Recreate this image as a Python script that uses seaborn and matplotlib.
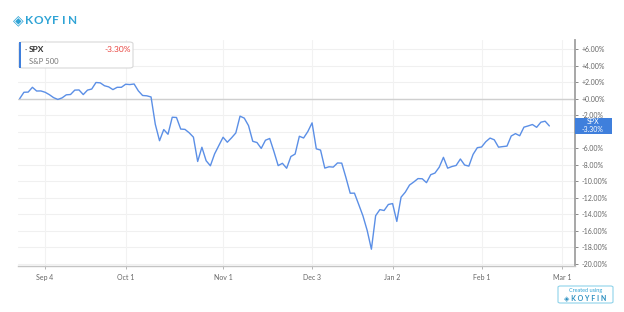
import numpy as np
import pandas as pd
import matplotlib
matplotlib.use("Agg")
import matplotlib.pyplot as plt
from matplotlib.patches import FancyBboxPatch, Rectangle
import seaborn as sns

# ---- data (percent change of S&P 500 since start) ----
start_date = "2018-08-24"
end_date = "2019-03-01"
holidays = ["2018-09-03", "2018-11-22", "2018-12-05", "2018-12-25",
            "2019-01-01", "2019-01-21", "2019-02-18"]
pct_aug = [0.00, 0.77, 0.79, 1.37, 0.92, 0.93]
pct_sep = [0.77, 0.48, 0.12, -0.10, 0.09, 0.46, 0.50, 1.03, 1.05, 0.49,
           1.03, 1.16, 1.95, 1.91, 1.56, 1.42, 1.09, 1.37, 1.37]
pct_oct = [1.74, 1.70, 1.77, 0.94, 0.38, 0.34, 0.20, -3.10, -5.09, -3.74,
           -4.31, -2.25, -2.28, -3.68, -3.72, -4.13, -4.66, -7.60, -5.88,
           -7.51, -8.12, -6.68, -5.67]
pct_nov = [-4.67, -5.27, -4.74, -4.15, -2.12, -2.36, -3.26, -5.16, -5.31,
           -6.02, -5.03, -4.82, -6.40, -8.10, -7.82, -8.42, -7.00, -6.70,
           -4.55, -4.76, -3.98]
pct_dec = [-2.93, -6.07, -6.22, -8.40, -8.24, -8.28, -7.78, -7.80, -9.56,
           -11.44, -11.43, -12.79, -14.17, -15.93, -18.21, -14.16, -13.42,
           -13.53, -12.80]
pct_jan = [-12.69, -14.85, -11.92, -11.31, -10.45, -10.08, -9.67, -9.69,
           -10.16, -9.20, -9.00, -8.30, -7.10, -8.41, -8.21, -8.08, -7.30,
           -8.03, -8.16, -6.74, -5.93]
pct_feb = [-5.85, -5.21, -4.77, -4.98, -5.87, -5.80, -5.74, -4.52, -4.23,
           -4.49, -3.45, -3.30, -3.13, -3.47, -2.85, -2.73, -3.30]
tick_dates = ["2018-09-04", "2018-10-01", "2018-11-01", "2018-12-03",
              "2019-01-02", "2019-02-01", "2019-03-01"]
tick_labels = ["Sep 4", "Oct 1", "Nov 1", "Dec 3", "Jan 2", "Feb 1", "Mar 1"]
y_ticks = [6, 4, 2, 0, -2, -4, -6, -8, -10, -12, -14, -16, -18, -20]
ticker = "SPX"
name = "S&P 500"
last_label = "-3.30%"
brand = "KOYFIN"

values = pct_aug + pct_sep + pct_oct + pct_nov + pct_dec + pct_jan + pct_feb
days = pd.bdate_range(start_date, end_date)
days = days[~days.isin(pd.to_datetime(holidays))]
day_index = {d: i for i, d in enumerate(days)}
df = pd.DataFrame({"t": np.arange(len(values)), "pct": values})
tick_pos = [day_index[pd.Timestamp(d)] for d in tick_dates]

# ---- figure ----
sns.set_style("white")
plt.rcParams["font.family"] = ["Lato", "DejaVu Sans"]
W, H = 624, 312
fig = plt.figure(figsize=(W / 100, H / 100), dpi=100, facecolor="white")
ax = fig.add_axes([18 / W, 1 - 266 / H, (575 - 18) / W, (266 - 40) / H])

line_color = "#5b8fe6"
sns.lineplot(data=df, x="t", y="pct", ax=ax, color=line_color, linewidth=1.0)

ax.set_xlim(-0.4, 131.05)
ax.set_ylim(-20.24, 7.09)
ax.set_xlabel("")
ax.set_ylabel("")

# grid
for y in y_ticks:
    ax.axhline(y, color="#f0f0f0", lw=0.8, zorder=0)
ax.axhline(0, color="#cfcfcf", lw=1.0, zorder=1)
for x in tick_pos:
    ax.axvline(x, color="#f2f2f2", lw=0.8, zorder=0)

# axes / ticks
for s in ["left", "top"]:
    ax.spines[s].set_visible(False)
ax.spines["right"].set_color("#a0a0a0")
ax.spines["right"].set_linewidth(1.3)
ax.spines["bottom"].set_color("#c4c4c4")
ax.spines["bottom"].set_linewidth(1.0)
ax.yaxis.tick_right()
ax.set_yticks(y_ticks)
ax.set_yticklabels([("" if v == -4 else (f"+{v:.2f}%" if v >= 0 else f"{v:.2f}%"))
                    for v in y_ticks])
ax.set_xticks(tick_pos)
ax.set_xticklabels(tick_labels)
ax.tick_params(axis="y", which="both", right=True, length=2.5, width=0.6,
               color="#777777", labelsize=5, labelcolor="#666666", pad=2)
ax.tick_params(axis="x", which="both", bottom=True, length=2.5, width=0.6,
               color="#aaaaaa", labelsize=5, labelcolor="#666666", pad=3)

# last value marker box on right axis
fig.patches.append(Rectangle((575 / W, 1 - 134 / H), 37 / W, 16 / H,
                             transform=fig.transFigure, facecolor="#3f7fdc",
                             edgecolor="none", zorder=5))
fig.text(593 / W, 1 - 122 / H, ticker, color="white", fontsize=5,
         ha="center", va="center", zorder=6)
fig.text(593 / W, 1 - 129.5 / H, last_label, color="white", fontsize=5,
         ha="center", va="center", zorder=6)

# legend box
fig.patches.append(FancyBboxPatch((19 / W, 1 - 68 / H), 114 / W, 26 / H,
                                  boxstyle="round,pad=0,rounding_size=0.006",
                                  transform=fig.transFigure, facecolor="white",
                                  edgecolor="#d8d8d8", lw=0.8, zorder=5))
fig.patches.append(Rectangle((19 / W, 1 - 68 / H), 2 / W, 26 / H,
                             transform=fig.transFigure, facecolor="#3f7fdc",
                             edgecolor="none", zorder=6))
fig.text(25 / W, 1 - 50 / H, "·", color="#555555", fontsize=6,
         ha="left", va="center", zorder=7)
fig.text(29 / W, 1 - 50 / H, ticker, color="#333333", fontsize=6,
         fontweight="bold", ha="left", va="center", zorder=7)
fig.text(131 / W, 1 - 50 / H, last_label, color="#e8413c", fontsize=6,
         ha="right", va="center", zorder=7)
fig.text(29 / W, 1 - 61 / H, name, color="#777777", fontsize=5.5,
         ha="left", va="center", zorder=7)

# Koyfin logo
logo_c = "#2ea3d5"
fig.text(12.5 / W, 1 - 20.5 / H, "◈", color=logo_c, fontsize=10,
         ha="left", va="center", family=["DejaVu Sans"])
for i, ch in enumerate(brand):
    fig.text((29.5 + i * 8.7) / W, 1 - 20.5 / H, ch, color=logo_c,
             fontsize=8.5, fontweight="bold", ha="center", va="center")

# "Created using" badge
fig.patches.append(FancyBboxPatch((558 / W, 1 - 303 / H), 55 / W, 17 / H,
                                  boxstyle="round,pad=0,rounding_size=0.004",
                                  transform=fig.transFigure, facecolor="white",
                                  edgecolor="#8fd3ea", lw=0.8, zorder=5))
fig.text(585.5 / W, 1 - 290.5 / H, "Created using", color=logo_c, fontsize=4,
         ha="center", va="center", zorder=6)
fig.text(585.5 / W, 1 - 297.5 / H, "◈ K O Y F I N", color="#2a8fc0", fontsize=5,
         fontweight="bold", ha="center", va="center", zorder=6,
         family=["Lato", "DejaVu Sans"])

fig.savefig("out.png", dpi=100, facecolor="white")
